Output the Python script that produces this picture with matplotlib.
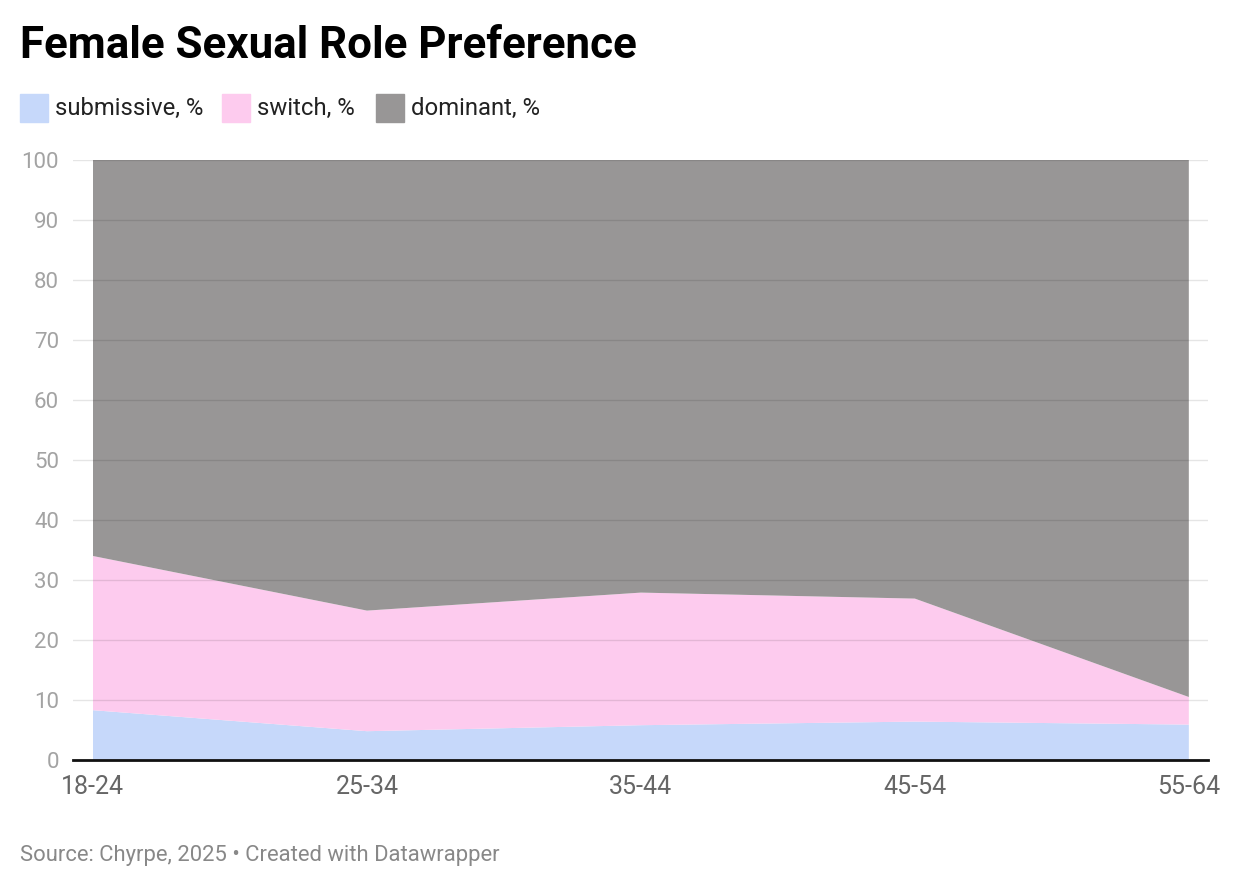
import matplotlib.pyplot as plt
import numpy as np

plt.rcParams['font.family'] = ['Roboto', 'DejaVu Sans']

ages = ['18-24', '25-34', '35-44', '45-54', '55-64']
submissive = [8.3, 4.8, 5.8, 6.4, 5.9]
switch = [25.7, 20.1, 22.1, 20.5, 4.6]
dominant = [66.0, 75.1, 72.1, 73.1, 89.5]

labels = ['submissive, %', 'switch, %', 'dominant, %']
colors = ['#c6d8fa', '#fdcbee', '#989696']

fig = plt.figure(figsize=(12.4, 8.86), dpi=100)
ax = fig.add_axes([73 / 1240, 1 - 760 / 886, (1208 - 73) / 1240, 600 / 886])

x = np.arange(len(ages))
ax.stackplot(x, submissive, switch, dominant, colors=colors, linewidth=0, zorder=1)

ax.set_xlim(-0.073, 4.07)
ax.set_ylim(0, 100)
ax.set_yticks(range(0, 101, 10))
ax.set_xticks(x)
ax.set_xticklabels(ages)
ax.grid(axis='y', color='black', alpha=0.1, linewidth=1, zorder=2)
ax.set_axisbelow(False)
for s in ['top', 'right', 'left']:
    ax.spines[s].set_visible(False)
ax.spines['bottom'].set_color('#111111')
ax.spines['bottom'].set_linewidth(2)
ax.spines['bottom'].set_zorder(3)
ax.tick_params(axis='y', length=0, pad=10, labelsize=16, labelcolor='#a3a3a3')
ax.tick_params(axis='x', length=0, pad=11, labelsize=18, labelcolor='#666666')

fig.text(20 / 1240, 1 - 46 / 886, 'Female Sexual Role Preference', fontsize=31.6,
         fontweight='bold', va='center', ha='left', color='black')

# legend
sq_x = [20, 222, 376]
for sx, lab, col in zip(sq_x, labels, colors):
    fig.patches.append(plt.Rectangle((sx / 1240, 1 - 122 / 886), 28 / 1240, 28 / 886,
                                     transform=fig.transFigure, color=col, figure=fig))
    fig.text((sx + 35) / 1240, 1 - 108 / 886, lab, fontsize=17.2, va='center', ha='left',
             color='#222222')

fig.text(20 / 1240, 1 - 855 / 886, 'Source: Chyrpe, 2025 \u2022 Created with Datawrapper',
         fontsize=15.8, va='center', ha='left', color='#888888')

fig.savefig('out.png', dpi=100, facecolor='white')
